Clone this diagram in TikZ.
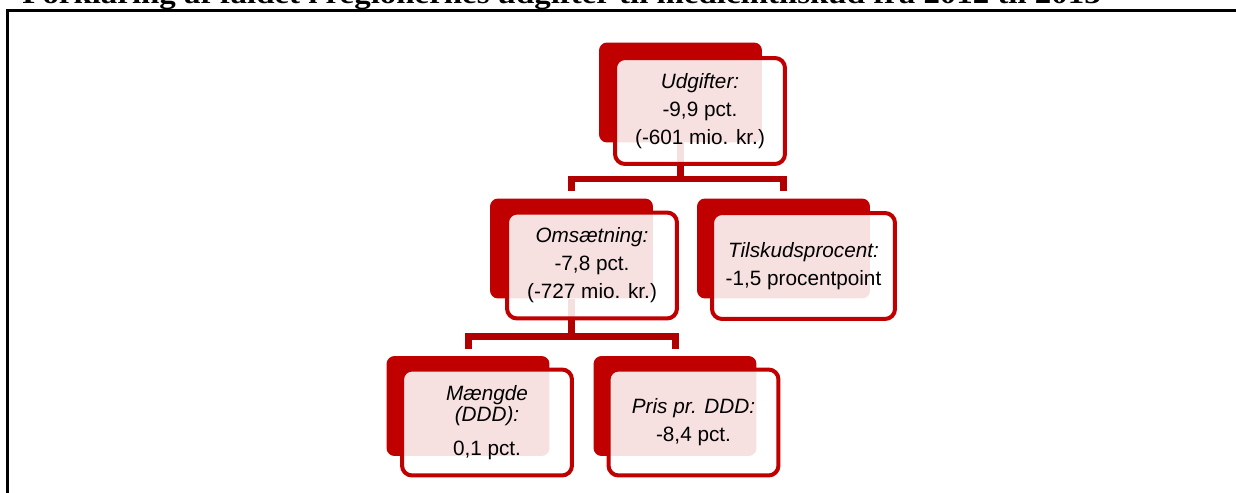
\documentclass[tikz,border=0pt]{standalone}
\usepackage{fontspec}
\setmainfont{Liberation Sans}
\newfontfamily\titelfont{Liberation Serif}
\usepackage{tikz}
\usetikzlibrary{positioning}

\definecolor{moerkroed}{RGB}{192,0,0}
\definecolor{stregroed}{RGB}{178,0,0}

\tikzset{
  bagkasse/.style={fill=moerkroed, rounded corners=0.16cm, minimum width=3.26cm,
    minimum height=2cm, inner sep=0pt},
  kasse/.style={draw=moerkroed, line width=0.08cm, fill=white, fill opacity=0.88,
    text opacity=1, rounded corners=0.2cm, minimum width=3.4cm, minimum height=2.12cm,
    align=center, inner sep=2pt, font=\fontsize{11.8}{16}\selectfont},
  stamme/.style={draw=stregroed, line width=0.14cm},
  forb/.style={stamme, shorten <=0.14cm, shorten >=0.14cm},
}

\begin{document}
\begin{tikzpicture}[x=0.02cm, y=-0.02cm]
        \clip (0,0) rectangle (1236,493);

        % titel og ramme
        \node[anchor=base west, inner sep=0pt, xscale=1.17,
          font=\titelfont\bfseries\fontsize{16}{19}\selectfont] (titel) at (22,4)
          {Forklaring af faldet i regionernes udgifter til medicintilskud fra 2012 til 2013};
        \draw[line width=0.05cm] (7.5,520) |- (1260,10.5);

        % bagkasser
        \node[bagkasse] (udg-b) at (680.5,92.5) {};
        \node[bagkasse] (oms-b) at (571.5,248.5) {};
        \node[bagkasse, minimum width=3.46cm] (tils-b) at (783.5,248.5) {};
        \node[bagkasse] (maeng-b) at (468,406) {};
        \node[bagkasse] (pris-b) at (675,406) {};

        % forbindelser
        \coordinate (gren1) at (680.5,179);
        \coordinate (gren2) at (571.5,336);
        \draw[stamme] (udg-b.south) -- (gren1);
        \draw[forb] (oms-b.north) -- (oms-b.north |- gren1)
          -- (tils-b.north |- gren1) -- (tils-b.north);
        \draw[stamme] (oms-b.south) -- (gren2);
        \draw[forb] (maeng-b.north) -- (maeng-b.north |- gren2)
          -- (pris-b.north |- gren2) -- (pris-b.north);

        % forkasser
        \node[kasse] (udg) at (700,111)
          {\textit{Udgifter:}\\-9,9 pct.\\(-601 mio. kr.)};
        \node[kasse] (oms) at (592,265.5)
          {\textit{Omsætning:}\\-7,8 pct.\\(-727 mio. kr.)};
        \node[kasse, minimum width=3.66cm] (tils) at (803.5,266)
          {\textit{Tilskudsprocent:}\\-1,5 procentpoint};
        \node[kasse] (maeng) at (487,422.5)
          {\textit{Mængde}\\[-4pt]\textit{(DDD):}\\[3pt]0,1 pct.};
        \node[kasse] (pris) at (693.5,422.5)
          {\textit{Pris pr. DDD:}\\-8,4 pct.};

\end{tikzpicture}
\end{document}
